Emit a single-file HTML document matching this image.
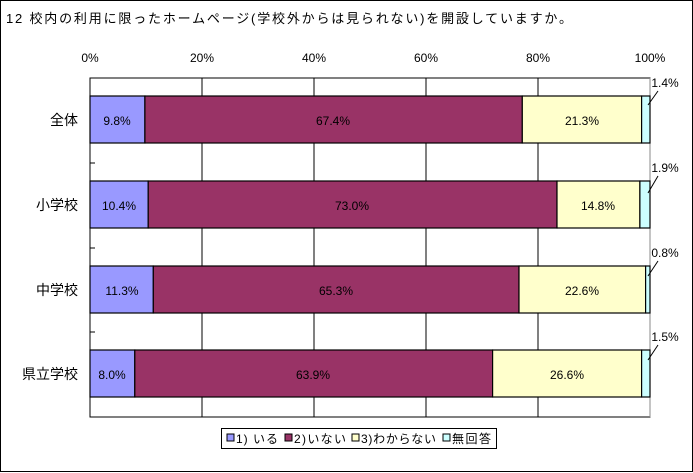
<!DOCTYPE html><html><head><meta charset="utf-8"><style>body{margin:0;background:#fff}svg{display:block;font-family:"Liberation Sans","Noto Sans CJK JP",sans-serif}</style></head><body>
<svg width="693" height="473" viewBox="0 0 693 473">
<rect x="0.5" y="0.5" width="692" height="471" fill="#fff" stroke="#000"/>
<text x="6" y="23" font-size="13" textLength="566" lengthAdjust="spacing">12  校内の利用に限ったホームページ(学校外からは見られない)を開設していますか。</text>
<g font-size="12" text-anchor="middle">
<text x="90" y="62">0%</text><text x="202" y="62">20%</text><text x="314" y="62">40%</text><text x="426" y="62">60%</text><text x="538" y="62">80%</text><text x="650" y="62">100%</text></g>
<rect x="90" y="78" width="560" height="339" fill="#fff" stroke="#000"/>
<g stroke="#000"><line x1="202" y1="78" x2="202" y2="417"/><line x1="314" y1="78" x2="314" y2="417"/><line x1="426" y1="78" x2="426" y2="417"/><line x1="538" y1="78" x2="538" y2="417"/>
<line x1="90" y1="163" x2="95" y2="163"/><line x1="90" y1="248" x2="95" y2="248"/><line x1="90" y1="332" x2="95" y2="332"/></g>
<line x1="650" y1="78" x2="650" y2="417" stroke="#888"/>
<g stroke="#000" stroke-width="1.2">
<rect x="90" y="96" width="54.9" height="47" fill="#9999FF"/><rect x="144.9" y="96" width="377.4" height="47" fill="#993366"/><rect x="522.3" y="96" width="119.3" height="47" fill="#FFFFCC"/><rect x="641.6" y="96" width="8.4" height="47" fill="#CCFFFF"/>
<rect x="90" y="181" width="58.2" height="47" fill="#9999FF"/><rect x="148.2" y="181" width="408.8" height="47" fill="#993366"/><rect x="557" y="181" width="82.9" height="47" fill="#FFFFCC"/><rect x="639.9" y="181" width="10.1" height="47" fill="#CCFFFF"/>
<rect x="90" y="266" width="63.3" height="47" fill="#9999FF"/><rect x="153.3" y="266" width="365.7" height="47" fill="#993366"/><rect x="519" y="266" width="126.6" height="47" fill="#FFFFCC"/><rect x="645.6" y="266" width="4.4" height="47" fill="#CCFFFF"/>
<rect x="90" y="350" width="44.8" height="47" fill="#9999FF"/><rect x="134.8" y="350" width="357.8" height="47" fill="#993366"/><rect x="492.6" y="350" width="149" height="47" fill="#FFFFCC"/><rect x="641.6" y="350" width="8.4" height="47" fill="#CCFFFF"/>
</g>
<g font-size="12" text-anchor="middle">
<text x="117" y="125">9.8%</text><text x="333" y="125">67.4%</text><text x="582" y="125">21.3%</text>
<text x="119" y="210">10.4%</text><text x="352" y="210">73.0%</text><text x="598" y="210">14.8%</text>
<text x="122" y="295">11.3%</text><text x="336" y="295">65.3%</text><text x="582" y="295">22.6%</text>
<text x="112" y="379">8.0%</text><text x="313" y="379">63.9%</text><text x="567" y="379">26.6%</text>
<text x="665" y="87">1.4%</text><text x="665" y="172">1.9%</text><text x="665" y="257">0.8%</text><text x="665" y="341">1.5%</text></g>
<g stroke="#000"><line x1="648" y1="105" x2="658" y2="91"/><line x1="648" y1="193" x2="658" y2="176"/><line x1="648" y1="276" x2="658" y2="261"/><line x1="648" y1="360" x2="658" y2="345"/></g>
<g font-size="14" text-anchor="end"><text x="78" y="125">全体</text><text x="78" y="210">小学校</text><text x="78" y="295">中学校</text><text x="78" y="379">県立学校</text></g>
<rect x="221.5" y="428.5" width="275" height="20" fill="#fff" stroke="#000"/>
<g stroke="#000"><rect x="227" y="434" width="7" height="7" fill="#9999FF"/><rect x="285" y="434" width="7" height="7" fill="#993366"/><rect x="352" y="434" width="7" height="7" fill="#FFFFCC"/><rect x="443" y="434" width="7" height="7" fill="#CCFFFF"/></g>
<g font-size="12"><text x="236" y="443" textLength="42">1) いる</text><text x="294" y="443" textLength="52">2)いない</text><text x="361" y="443" textLength="75">3)わからない</text><text x="452" y="443" textLength="39">無回答</text></g>
</svg></body></html>
